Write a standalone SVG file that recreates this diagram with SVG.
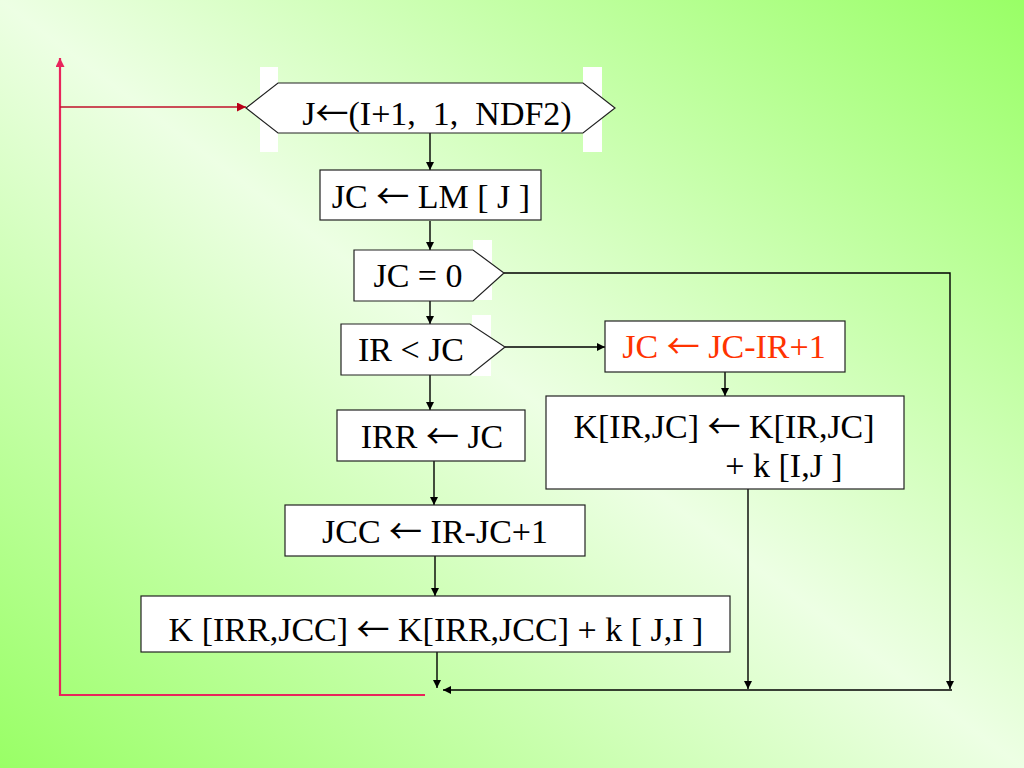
<svg xmlns="http://www.w3.org/2000/svg" width="1024" height="768" viewBox="0 0 1024 768">
<defs>
<linearGradient id="bg" x1="1" y1="0" x2="0" y2="1">
<stop offset="0" stop-color="#99FF66"/>
<stop offset="0.5" stop-color="#EDFFE4"/>
<stop offset="1" stop-color="#99FF66"/>
</linearGradient>
<marker id="ab" viewBox="0 0 10 10" refX="10" refY="5" markerWidth="9" markerHeight="8" markerUnits="userSpaceOnUse" orient="auto">
<path d="M0,0 L10,5 L0,10 Z" fill="#000"/>
</marker>
<marker id="ar" viewBox="0 0 10 10" refX="10" refY="5" markerWidth="11" markerHeight="9" markerUnits="userSpaceOnUse" orient="auto">
<path d="M0,0 L10,5 L0,10 Z" fill="#B80018"/>
</marker>
<marker id="ap" viewBox="0 0 10 10" refX="10" refY="5" markerWidth="11" markerHeight="9" markerUnits="userSpaceOnUse" orient="auto">
<path d="M0,0 L10,5 L0,10 Z" fill="#E8245C"/>
</marker>
<style>
.shape{fill:#fff;stroke:#222;stroke-width:1.2}
.bar{fill:#fff;stroke:none}
.t{font-family:"Liberation Serif","Times New Roman",serif;font-size:34px;fill:#000;text-anchor:middle}
.arw{font-family:"Noto Sans CJK JP","Noto Sans CJK SC",sans-serif;font-size:33px}
.red{fill:#FF3300}
.ln{fill:none;stroke:#000;stroke-width:1.4}
</style>
</defs>
<rect x="0" y="0" width="1024" height="768" fill="url(#bg)"/>

<g id="connectors">
<line class="ln" x1="430" y1="133" x2="430" y2="170" marker-end="url(#ab)"/>
<line class="ln" x1="430" y1="221" x2="430" y2="250" marker-end="url(#ab)"/>
<line class="ln" x1="430" y1="301" x2="430" y2="324" marker-end="url(#ab)"/>
<polyline class="ln" points="504,273 950,273 950,689" marker-end="url(#ab)"/>
<line class="ln" x1="505" y1="347" x2="605" y2="347" marker-end="url(#ab)"/>
<line class="ln" x1="725" y1="372" x2="725" y2="396" marker-end="url(#ab)"/>
<line class="ln" x1="748" y1="489" x2="748" y2="689" marker-end="url(#ab)"/>
<line class="ln" x1="430" y1="375" x2="430" y2="410" marker-end="url(#ab)"/>
<line class="ln" x1="434" y1="461" x2="434" y2="505" marker-end="url(#ab)"/>
<line class="ln" x1="435" y1="556" x2="435" y2="596" marker-end="url(#ab)"/>
<line class="ln" x1="437" y1="652" x2="437" y2="688" marker-end="url(#ab)"/>
<line class="ln" x1="952" y1="690" x2="443" y2="690" marker-end="url(#ab)"/>
<polyline fill="none" stroke="#E8245C" stroke-width="2.2" points="425,695 60,695 60,58" marker-end="url(#ap)"/>
<line stroke="#C0102A" stroke-width="1.6" x1="60" y1="107" x2="246" y2="107" marker-end="url(#ar)"/>
</g>

<g id="node-loop">
<rect class="bar" x="260" y="67" width="18" height="85"/>
<rect class="bar" x="583" y="67" width="19" height="85"/>
<polygon class="shape" points="246,108 278,83 583,83 615,108 583,133 278,133"/>
<text class="t" x="437" y="125" xml:space="preserve">J<tspan class="arw">←</tspan>(I+1,  1,  NDF2)</text>
</g>

<g id="node-jc-lm">
<rect class="shape" x="320" y="170" width="221" height="50"/>
<text class="t" x="431" y="208">JC <tspan class="arw">←</tspan> LM [ J ]</text>
</g>

<g id="node-jc-zero">
<rect class="bar" x="473" y="240" width="19" height="60"/>
<polygon class="shape" points="354,250 473,250 504,273 473,301 354,301"/>
<text class="t" x="418" y="287">JC = 0</text>
</g>

<g id="node-ir-jc">
<rect class="bar" x="472" y="315" width="19" height="61"/>
<polygon class="shape" points="341,324 470,324 505,347 470,375 341,375"/>
<text class="t" x="411" y="361">IR &lt; JC</text>
</g>

<g id="node-jc-update">
<rect class="shape" x="605" y="321" width="240" height="51"/>
<text class="t red" x="724" y="358">JC <tspan class="arw">←</tspan> JC-IR+1</text>
</g>

<g id="node-k-ir-jc">
<rect class="shape" x="546" y="396" width="358" height="93"/>
<text class="t" x="724" y="438">K[IR,JC] <tspan class="arw">←</tspan> K[IR,JC]</text>
<text class="t" x="784" y="477">+ k [I,J ]</text>
</g>

<g id="node-irr">
<rect class="shape" x="337" y="410" width="188" height="51"/>
<text class="t" x="432" y="448">IRR <tspan class="arw">←</tspan> JC</text>
</g>

<g id="node-jcc">
<rect class="shape" x="285" y="505" width="300" height="51"/>
<text class="t" x="435" y="543">JCC <tspan class="arw">←</tspan> IR-JC+1</text>
</g>

<g id="node-k-irr-jcc">
<rect class="shape" x="141" y="596" width="589" height="56"/>
<text class="t" x="436" y="641">K [IRR,JCC] <tspan class="arw">←</tspan> K[IRR,JCC] + k [ J,I ]</text>
</g>
</svg>
